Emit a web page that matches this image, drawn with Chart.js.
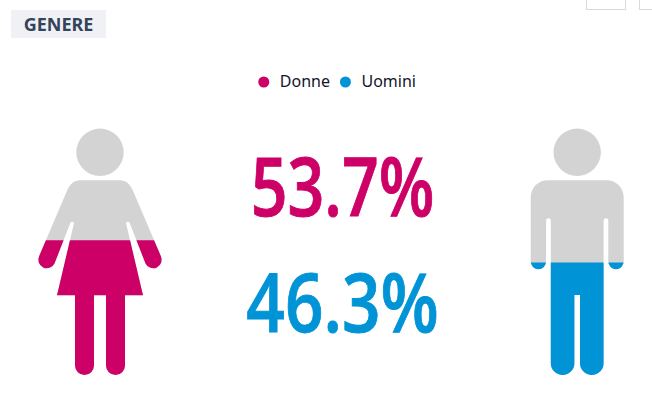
<!DOCTYPE html>
<html>
<head>
<meta charset="utf-8">
<style>
html,body{margin:0;padding:0;background:#fff;overflow:hidden;width:652px;height:396px}
#wrap{position:relative;width:652px;height:396px}
canvas{position:absolute;left:0;top:0}
#tag{position:absolute;left:11px;top:10px;width:95px;height:28px;background:#f0f1f4;color:#34445c;font:700 18px/29px "Noto Sans",sans-serif;text-align:center;z-index:2}
.btn{position:absolute;top:-2px;height:10px;border:1px solid #d6d9dd;background:#fff;z-index:2}
</style>
<script src="https://cdn.jsdelivr.net/npm/chart.js@4"></script>
</head>
<body>
<div id="wrap">
<div id="tag">GENERE</div>
<div class="btn" style="left:586px;width:38px"></div>
<div class="btn" style="left:639px;width:30px"></div>
<canvas id="c" width="652" height="396" style="width:652px;height:396px"></canvas>
</div>
<script>
const categories = ["Donne", "Uomini"];
const donneValues = [53.7, null];
const uominiValues = [null, 46.3];
const percentValues = [53.7, 46.3];
const pink = "#cc0066";
const blue = "#0093d6";
const grey = "#d3d3d3";

const head = "M23.7 152.3A23.7 23.7 0 1 1 -23.7 152.3A23.7 23.7 0 1 1 23.7 152.3Z";
const womanBody = "M-20 180.3H20C27 180.3 31 186 33.5 192L60.8 256A8.2 8.2 0 0 1 45.5 263.5L29.5 222.5A2 2 0 0 0 26 223L43 295.3H25V365.5A9.5 9.5 0 0 1 6 365.5V295.3H-6V365.5A9.5 9.5 0 0 1 -25 365.5V295.3H-43L-26 223A2 2 0 0 0 -29.5 222.5L-45.5 263.5A8.2 8.2 0 0 1 -60.8 256L-33.5 192C-31 186 -27 180.3 -20 180.3Z";
const manBody = "M-29 180.3H29C39.5 180.3 46.5 188 46.5 198V261.5A7.7 7.7 0 0 1 31.1 261.5V220.5A2.35 2.35 0 0 0 26.4 220.5V363.2A11.8 11.8 0 0 1 2.8 363.2V295H-2.8V363.2A11.8 11.8 0 0 1 -26.4 363.2V220.5A2.35 2.35 0 0 0 -31.1 220.5V261.5A7.7 7.7 0 0 1 -46.5 261.5V198C-46.5 188 -39.5 180.3 -29 180.3Z";

function figures(chart){
  const all = new Path2D();
  [womanBody, manBody].forEach((d,i)=>{
    const m = new DOMMatrix().translate(chart.scales.x.getPixelForValue(i),0);
    all.addPath(new Path2D(head), m);
    all.addPath(new Path2D(d), m);
  });
  return all;
}

const pictogram = {
  id:"pictogram",
  afterLayout(chart){
    const l = chart.legend;
    l.left -= 2.75; l.right -= 2.75; l.top -= 2.5; l.bottom -= 2.5;
  },
  beforeDraw(chart){
    const c = chart.ctx;
    c.save();c.fillStyle="#fff";c.fillRect(0,0,chart.width,chart.height);c.restore();
  },
  beforeDatasetsDraw(chart){
    const c = chart.ctx, p = figures(chart);
    c.save();
    c.fillStyle = grey;
    c.fill(p);
    c.clip(p);
  },
  afterDatasetsDraw(chart){
    chart.ctx.restore();
  },
  afterDraw(chart){
    const c = chart.ctx;
    const rows = [
      {v:percentValues[0],col:pink,y:216,sx:0.785},
      {v:percentValues[1],col:blue,y:331.5,sx:0.822}
    ];
    rows.forEach(r=>{
      c.save();
      c.translate(342.5,r.y);
      c.scale(r.sx,1);
      c.font = '600 82px "Open Sans"';
      c.textAlign = "center";
      c.textBaseline = "alphabetic";
      c.fillStyle = r.col;
      c.strokeStyle = r.col;
      c.lineWidth = 0.9;
      c.fillText(r.v.toFixed(1)+"%",0,0);
      c.strokeText(r.v.toFixed(1)+"%",0,0);
      c.restore();
    });
  }
};

const ctx = document.getElementById("c").getContext("2d",{alpha:false});
new Chart(ctx,{
  type:"bar",
  data:{
    labels:categories,
    datasets:[
      {label:categories[0],data:donneValues,backgroundColor:pink,borderWidth:0,barThickness:150,clip:false,pointStyle:"circle"},
      {label:categories[1],data:uominiValues,backgroundColor:blue,borderWidth:0,barThickness:150,clip:false,pointStyle:"circle"}
    ]
  },
  options:{
    responsive:false,
    animation:false,
    layout:{padding:{left:100,right:74.8,top:69,bottom:1}},
    scales:{
      x:{display:false,stacked:true,offset:false},
      y:{display:false,stacked:true,min:2,max:100}
    },
    plugins:{
      tooltip:{enabled:false},
      legend:{
        position:"top",
        labels:{
          usePointStyle:true,
          boxWidth:16,
          boxHeight:7.8,
          padding:7.5,
          color:"#14142b",
          font:{family:'"Noto Sans"',size:16}
        }
      }
    }
  },
  plugins:[pictogram]
});
</script>
</body>
</html>
